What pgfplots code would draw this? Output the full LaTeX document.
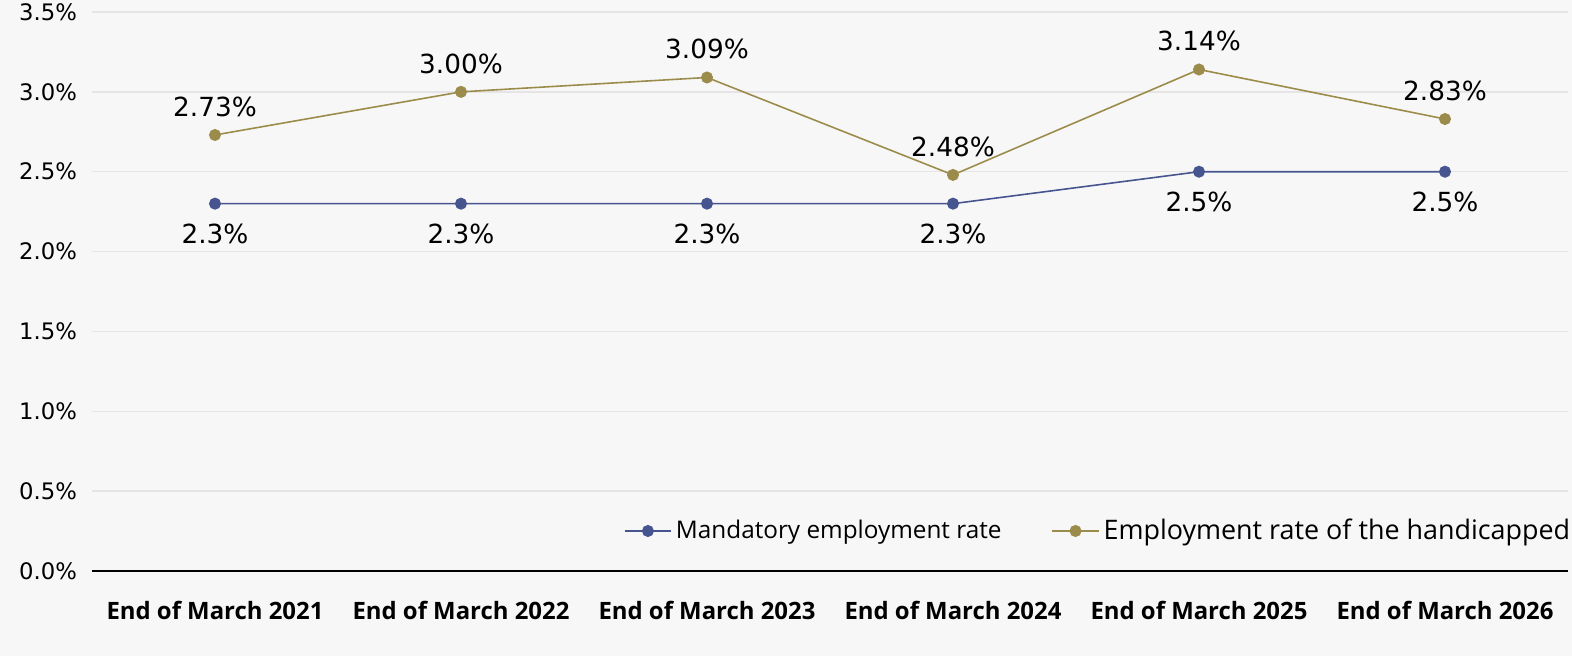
\documentclass[border=0pt]{standalone}
\usepackage{pgfplots}
\pgfplotsset{compat=1.18}
\usepackage{fontspec}
\setmainfont{Open Sans}
\newfontfamily\numfont{DejaVu Sans}

\definecolor{bgcol}{HTML}{F8F7F7}
\definecolor{gridcol}{HTML}{E6E4E4}
\definecolor{mandblue}{HTML}{465590}
\definecolor{empgold}{HTML}{9B8C4B}

\begin{document}
\begin{tikzpicture}
% page background and fixed picture size
\path[use as bounding box, fill=bgcol] (-46bp,-42.5bp) rectangle (740bp,285.5bp);
\begin{axis}[
  at={(0,0)}, anchor=south west,
  scale only axis,
  width=738bp, height=279.5bp,
  xmin=-0.5, xmax=5.5,
  ymin=0, ymax=3.5,
  xtick={0,1,2,3,4,5},
  xticklabels={End of March 2021,End of March 2022,End of March 2023,End of March 2024,End of March 2025,End of March 2026},
  xticklabel style={font=\fontsize{12}{14}\selectfont\bfseries, yshift=-11.5bp},
  ytick={0,0.5,1,1.5,2,2.5,3,3.5},
  yticklabel={\pgfmathprintnumber[fixed,fixed zerofill,precision=1]{\tick}\%},
  yticklabel style={font=\numfont\fontsize{11.4}{13}\selectfont, xshift=-4bp},
  /pgf/number format/assume math mode=true,
  major tick length=0pt,
  ymajorgrids,
  grid style={gridcol, line width=0.7pt},
  axis line style={draw=none},
  axis x line*=bottom,
  clip=false,
  legend style={at={(1.0085,0.0716)}, anchor=east, draw=none, fill=none,
    legend columns=2, column sep=0bp, font=\fontsize{12.2}{14}\selectfont,
    /tikz/every even column/.append style={column sep=23bp}},
  legend cell align=left,
  legend image code/.code={%
    \draw[mark repeat=2,mark phase=2,#1] plot coordinates {(0cm,0cm) (0.41cm,0cm) (0.82cm,0cm)};},
  nodes near coords style={font=\numfont\fontsize{13.2}{15}\selectfont, text=black},
]
\draw[black, line width=0.8pt] (rel axis cs:0,0) -- (rel axis cs:1,0);

\addplot[mandblue, line width=0.8pt, mark=*, mark size=2.6bp,
  nodes near coords={\pgfmathprintnumber[fixed,precision=1]{\pgfplotspointmeta}\%},
  nodes near coords align={below}, every node near coord/.append style={yshift=-6.5bp}]
  coordinates {(0,2.3) (1,2.3) (2,2.3) (3,2.3) (4,2.5) (5,2.5)};
\addlegendentry{Mandatory employment rate}

\addplot[empgold, line width=0.8pt, mark=*, mark size=2.6bp,
  nodes near coords={\pgfmathprintnumber[fixed,fixed zerofill,precision=2]{\pgfplotspointmeta}\%},
  nodes near coords align={above}, every node near coord/.append style={yshift=5.5bp}]
  coordinates {(0,2.73) (1,3.00) (2,3.09) (3,2.48) (4,3.14) (5,2.83)};
\addlegendentry{\fontsize{13.5}{15}\selectfont Employment rate of the handicapped}
\end{axis}
\end{tikzpicture}
\end{document}
